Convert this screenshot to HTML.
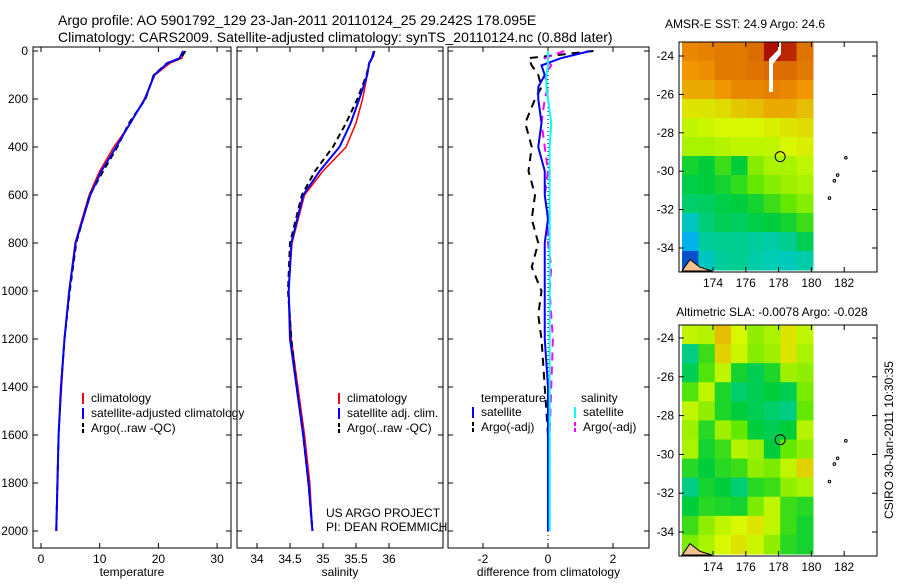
<!DOCTYPE html>
<html><head><meta charset="utf-8"><style>
body{margin:0;background:#fff;}
svg{font-family:"Liberation Sans",sans-serif;}
</style></head><body>
<svg id="c" width="900" height="580" xmlns="http://www.w3.org/2000/svg">
<text x="58" y="25" font-size="14">Argo profile: AO 5901792_129 23-Jan-2011 20110124_25 29.242S 178.095E</text>
<text x="58" y="42" font-size="14">Climatology: CARS2009. Satellite-adjusted climatology: synTS_20110124.nc (0.88d later)</text>
<g id="g"></g>
<text x="745" y="28" font-size="12" text-anchor="middle">AMSR-E SST: 24.9 Argo: 24.6</text>
<text x="772" y="316" font-size="12" text-anchor="middle">Altimetric SLA: -0.0078 Argo: -0.028</text>
<text x="0" y="0" font-size="12" text-anchor="middle" transform="translate(893,440) rotate(-90)">CSIRO 30-Jan-2011 10:30:35</text>
<text x="326" y="517" font-size="12">US ARGO PROJECT</text>
<text x="326" y="531" font-size="12">PI: DEAN ROEMMICH</text>
</svg>
<script>
const depths=[0,30,50,100,200,300,400,500,600,800,1000,1200,1400,1600,1800,2000];
const tempClim=[24.4,24.0,22.0,19.4,17.6,15.3,12.4,10.0,8.2,5.8,4.8,4.0,3.5,3.0,2.8,2.6];
const tempSat=[24.2,23.6,21.6,19.3,17.7,15.2,12.8,10.3,8.4,5.9,4.8,4.0,3.4,3.0,2.8,2.6];
const tempArgo=[24.6,23.8,21.5,19.2,17.8,15.0,13.0,10.6,8.3,6.0,4.9,4.0,3.4,3.0,2.8,2.6];
const salClim=[35.77,35.75,35.7,35.67,35.6,35.5,35.35,35.0,34.72,34.53,34.48,34.52,34.62,34.72,34.8,34.84];
const salSat=[35.77,35.74,35.7,35.67,35.55,35.42,35.25,34.95,34.7,34.52,34.48,34.5,34.6,34.7,34.78,34.84];
const salArgo=[35.78,35.75,35.7,35.66,35.52,35.35,35.15,34.88,34.68,34.5,34.47,34.52,34.6,34.7,34.78,34.84];
const dDepths=[0,30,60,100,150,200,300,400,500,600,700,800,900,1000,1100,1200,1400,1600,1800,2000];
const dTempSat=[1.3,0.4,-0.2,-0.1,-0.3,-0.3,-0.2,-0.3,-0.1,-0.1,0,-0.1,-0.1,-0.1,-0.1,-0.1,0,0,0,0];
const dTempArgo=[1.4,-0.6,-0.5,-0.3,-0.2,-0.4,-0.7,-0.5,-0.6,-0.4,-0.5,-0.3,-0.5,-0.2,-0.3,-0.2,-0.1,0,0,0];
const dSalSat=[0,0,0,-0.05,-0.05,0,0.1,0.05,0.05,0.05,0.05,0.05,0.05,0.05,0.05,0.05,0.05,0.05,0.05,0.05];
const dSalArgo=[0.5,-0.1,0.1,-0.1,0,-0.1,-0.2,-0.1,0,-0.1,0,0,0.1,0.05,0.1,0.15,0.1,0.05,0.05,0.05];
const sstGrid=[
[6.2,6.3,6.4,6.4,6.6,7.8,7.5,6.5],
[6.0,6.1,6.4,6.4,6.5,6.6,6.6,6.4],
[5.8,5.8,6.0,6.2,6.2,6.3,6.2,6.0],
[5.2,5.2,5.3,5.5,5.6,5.8,5.8,5.6],
[4.8,4.9,5.0,5.0,5.0,5.1,5.2,5.3],
[4.6,4.6,4.7,4.8,4.8,4.8,5.0,5.1],
[3.2,3.0,3.6,3.0,4.3,4.6,4.6,4.8],
[2.9,3.0,3.2,3.5,4.0,4.3,4.5,4.6],
[2.6,2.7,2.9,3.0,3.2,3.6,4.0,4.3],
[1.8,2.5,2.8,2.7,2.9,3.0,3.2,3.6],
[1.2,2.2,2.3,2.3,2.2,2.1,2.3,2.8],
[0.4,1.8,2.2,2.3,2.1,2.0,1.9,2.1]];
const slaGrid=[
[4.8,4.7,5.6,5.0,4.4,4.6,5.2,4.8],
[2.4,3.6,5.4,4.9,4.3,4.5,5.2,4.6],
[2.8,3.8,4.8,3.2,2.8,3.3,4.5,4.4],
[3.8,4.8,3.3,2.6,2.8,3.0,2.8,4.2],
[4.8,4.4,3.3,3.0,2.8,2.6,2.4,4.0],
[4.5,3.4,4.5,4.0,3.0,2.8,3.0,4.7],
[4.6,3.2,3.6,4.7,4.5,3.0,4.0,4.4],
[3.4,3.0,3.4,3.6,4.4,4.2,4.8,5.4],
[2.4,3.2,3.0,2.5,3.4,3.6,4.4,4.6],
[3.0,3.4,3.3,3.2,4.2,4.8,3.6,3.4],
[3.6,4.4,4.8,5.0,5.2,4.8,3.6,3.2],
[4.2,4.6,5.0,5.2,4.9,4.4,3.4,3.2]];
const NS="http://www.w3.org/2000/svg";
const G=document.getElementById('g');
function el(t,a,p){const e=document.createElementNS(NS,t);for(const k in a)e.setAttribute(k,a[k]);(p||G).appendChild(e);return e;}
const yD=d=>51+d*0.24;
function panel(x0,x1,xf,ticks,xlab,name){
 const r=el('rect',{x:x0,y:47,width:x1-x0,height:501,fill:'none',stroke:'#000'});
 
 ticks.forEach(t=>{const x=xf(t);el('line',{x1:x,x2:x,y1:548,y2:543,stroke:'#000'});el('line',{x1:x,x2:x,y1:47,y2:52,stroke:'#000'});
  const tx=el('text',{x:x,y:563,'font-size':12,'text-anchor':'middle'});tx.textContent=t;
  });
 for(let d=0;d<=2000;d+=200){const y=yD(d);el('line',{x1:x0,x2:x0+5,y1:y,y2:y,stroke:'#000'});el('line',{x1:x1-5,x2:x1,y1:y,y2:y,stroke:'#000'});}
 const l=el('text',{x:(x0+x1)/2,y:576,'font-size':12,'text-anchor':'middle'});l.textContent=xlab;
 
}
function line(xs,ds,xf,col,w,dash,name){
 const p=el('polyline',{points:xs.map((v,i)=>xf(v)+','+yD(ds[i])).join(' '),fill:'none',stroke:col,'stroke-width':w});
 if(dash)p.setAttribute('stroke-dasharray',dash);
 
}
for(let d=0;d<=2000;d+=200){const t=el('text',{x:28,y:yD(d)+4,'font-size':12,'text-anchor':'end'});t.textContent=d;
 }
const xT=v=>41+v*5.87, xS=v=>290+(v-34.5)*66, xDf=v=>548+v*32.5;
panel(33,231,xT,[0,10,20,30],'temperature','temperature-panel');
panel(237,443,xS,[34,34.5,35,35.5,36],'salinity','salinity-panel');
panel(448,649,xDf,[-2,0,2],'difference from climatology','difference-panel');
line(tempClim,depths,xT,'#f00',1.5,null,'temp-climatology-line');
line(tempArgo,depths,xT,'#000',2,'6,4','temp-argo-line');
line(tempSat,depths,xT,'#00f',2,null,'temp-satellite-line');
line(salClim,depths,xS,'#f00',1.5,null,'sal-climatology-line');
line(salArgo,depths,xS,'#000',2,'6,4','sal-argo-line');
line(salSat,depths,xS,'#00f',2,null,'sal-satellite-line');
el('line',{x1:548,x2:548,y1:47,y2:548,stroke:'#000','stroke-dasharray':'1,3'});
line(dTempArgo,dDepths,xDf,'#000',2,'8,6','diff-temp-argo-line');
line(dSalArgo,dDepths,xDf,'#f0f',2,'8,6','diff-sal-argo-line');
line(dTempSat,dDepths,xDf,'#00f',2,null,'diff-temp-satellite-line');
line(dSalSat,dDepths,xDf,'#0ff',2,null,'diff-sal-satellite-line');
function legend(x,y,items,name){items.forEach((it,i)=>{
 const l=el('line',{x1:x,x2:x,y1:y+i*15-9,y2:y+i*15+2,stroke:it[1],'stroke-width':2});if(it[2])l.setAttribute('stroke-dasharray','4,2');
 const t=el('text',{x:x+8,y:y+i*15,'font-size':12});t.textContent=it[0];
 });}
legend(83,402,[['climatology','#f00'],['satellite-adjusted climatology','#00f'],['Argo(..raw -QC)','#000',1]],'temp-legend');
legend(339,402,[['climatology','#f00'],['satellite adj. clim.','#00f'],['Argo(..raw -QC)','#000',1]],'sal-legend');
let t0=el('text',{x:481,y:402,'font-size':12});t0.textContent='temperature';
let t1=el('text',{x:581,y:402,'font-size':12});t1.textContent='salinity';
legend(473,416,[['satellite','#00f'],['Argo(-adj)','#000',1]],'diff-temp-legend');
legend(575,416,[['satellite','#0ff'],['Argo(-adj)','#f0f',1]],'diff-sal-legend');
const stops=[[10,20,170],[0,170,250],[0,205,180],[0,205,60],[100,232,0],[215,248,0],[240,150,0],[205,80,0],[165,0,0]];
function cmap(v){v=Math.max(0,Math.min(7.999,v));const i=Math.floor(v),f=v-i,a=stops[i],b=stops[i+1];
 return 'rgb('+a.map((c,k)=>Math.round(c+(b[k]-c)*f)).join(',')+')';}
function map(top,bot,lat24,lat34,grid,name,gap){
 const yL=l=>lat24+(-24-l)*(lat34-lat24)/10, xL=l=>713+(l-174)*16.4;
 const rows=grid.length,cols=grid[0].length,w=(813-682)/cols,h=(bot-top)/rows;
 grid.forEach((r,i)=>r.forEach((v,j)=>{const c=el('rect',{x:682+j*w,y:top+i*h,width:w+0.5,height:h+0.5,fill:cmap(v)});
  }));
 if(gap)el('polygon',{points:'769,'+(top+40)+' 769,'+(top+17)+' 778,'+(top+8)+' 778,'+top+' 781,'+top+' 781,'+(top+12)+' 773,'+(top+22)+' 773,'+(top+50)+' 769,'+(top+50),fill:'#fff'});
 el('rect',{x:679,y:top,width:198,height:bot-top+2,fill:'none',stroke:'#000'});
 [174,176,178,180,182].forEach(l=>{const x=xL(l);el('line',{x1:x,x2:x,y1:bot+2,y2:bot-3,stroke:'#000'});el('line',{x1:x,x2:x,y1:top,y2:top+5,stroke:'#000'});
  const t=el('text',{x:x,y:bot+17,'font-size':12,'text-anchor':'middle'});t.textContent=l;});
 [-24,-26,-28,-30,-32,-34].forEach(l=>{const y=yL(l);el('line',{x1:679,x2:684,y1:y,y2:y,stroke:'#000'});el('line',{x1:872,x2:877,y1:y,y2:y,stroke:'#000'});
  const t=el('text',{x:674,y:y+4,'font-size':12,'text-anchor':'end'});t.textContent=l;});
 const c=el('circle',{cx:xL(178.095),cy:yL(-29.242),r:5,fill:'none',stroke:'#000'});
 
 [[182.1,-29.3],[181.6,-30.2],[181.4,-30.5],[181.1,-31.4]].forEach(p=>el('circle',{cx:xL(p[0]),cy:yL(p[1]),r:1.3,fill:'none',stroke:'#000'}));
 el('polygon',{points:'682,'+(yL(-35.2))+' 690,'+yL(-34.6)+' 700,'+yL(-35)+' 712,'+(bot+1)+' 682,'+(bot+1),fill:'#f5c090',stroke:'#000'});
}
map(42,270,56,248,sstGrid,'sst-map',true);
map(325,554,338,532,slaGrid,'sla-map',false);
</script>
</body></html>
